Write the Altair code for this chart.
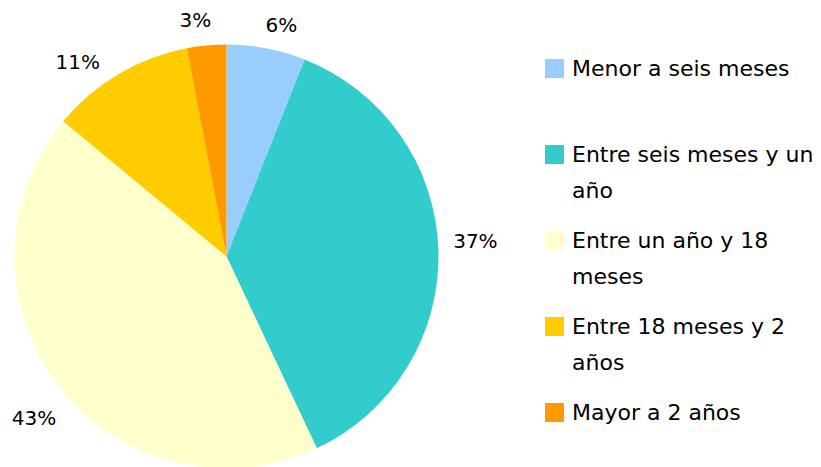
import altair as alt
import pandas as pd

categories = [
    "Menor a seis meses",
    "Entre seis meses y un año",
    "Entre un año y 18 meses",
    "Entre 18 meses y 2 años",
    "Mayor a 2 años",
]
legend_text = [
    "Menor a seis meses",
    "Entre seis meses y un\naño",
    "Entre un año y 18\nmeses",
    "Entre 18 meses y 2\naños",
    "Mayor a 2 años",
]
values = [6, 37, 43, 11, 3]
labels = ["6%", "37%", "43%", "11%", "3%"]
colors = ["#99CCFF", "#33CCCC", "#FFFFCC", "#FFCC00", "#FF9900"]

df = pd.DataFrame({
    "categoria": categories,
    "leyenda": legend_text,
    "valor": values,
    "etiqueta": labels,
    "orden": list(range(len(categories))),
})

FONT = "DejaVu Sans"
cx, cy = 218.5, 248.5

# small label nudges (Excel-style label placement), keyed by category
nudges = {
    "Menor a seis meses": (9, 10),
    "Entre seis meses y un año": (4, -7),
    "Entre un año y 18 meses": (1, 12),
    "Entre 18 meses y 2 años": (-24, 17),
    "Mayor a 2 años": (-8, 8),
}

color = alt.Color("categoria:N", scale=alt.Scale(domain=categories, range=colors), legend=None)
theta = alt.Theta("valor:Q", stack=True)
order = alt.Order("orden:Q")

base = alt.Chart(df)

pie = base.mark_arc(outerRadius=212).encode(
    theta=theta, color=color, order=order, x=alt.value(cx), y=alt.value(cy)
)

pct_layers = []
for cat in categories:
    ndx, ndy = nudges[cat]
    pct_layers.append(
        base.mark_text(radius=245, fontSize=20, font=FONT, color="#000000",
                       align="center", baseline="middle", dx=ndx, dy=ndy)
        .encode(theta=theta, order=order, text="etiqueta:N",
                x=alt.value(cx), y=alt.value(cy),
                opacity=alt.condition(alt.datum.categoria == cat, alt.value(1), alt.value(0)))
    )

ly = alt.Y("orden:Q", scale=alt.Scale(domain=[0, 4], range=[60.5, 404.5]), axis=None)

squares = base.mark_square(size=361, filled=True, opacity=1).encode(
    x=alt.value(546.5), y=ly, color=color
)

legend_labels = base.mark_text(fontSize=22, font=FONT, color="#000000", align="left",
                               baseline="top", dy=-9.5, lineBreak="\n",
                               lineHeight=35.6).encode(
    x=alt.value(564), y=ly, text="leyenda:N"
)

chart = alt.layer(pie, *pct_layers, squares, legend_labels).properties(
    width=805, height=459, padding=0,
    autosize=alt.AutoSizeParams(type="none"),
).configure_view(stroke=None)

chart.save("out.html", embed_options={"renderer": "svg", "actions": False})
